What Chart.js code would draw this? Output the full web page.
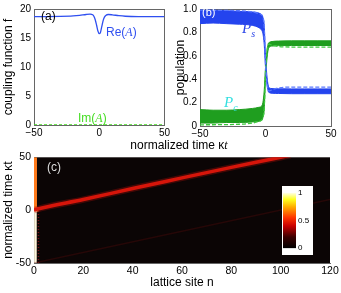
<!DOCTYPE html>
<html>
<head>
<meta charset="utf-8">
<script src="https://cdn.jsdelivr.net/npm/chart.js@4.4.0/dist/chart.umd.min.js"></script>
<style>
body { margin: 0; background: #fff; width: 341px; height: 293px; position: relative; overflow: hidden; font-family: "Liberation Sans", Arial, sans-serif; }
canvas { position: absolute; }
.lbl { position: absolute; white-space: nowrap; line-height: 1; }
.math { font-family: "Liberation Serif", serif; font-style: italic; }
</style>
</head>
<body>
<canvas id="chartA" width="172" height="140" style="left:0;top:0"></canvas>
<canvas id="chartB" width="169" height="140" style="left:172px;top:0"></canvas>
<canvas id="chartC" width="341" height="145" style="left:0;top:148px"></canvas>
<canvas id="colorBar" width="31" height="69" style="left:282px;top:186px;background:#fff"></canvas>

<div class="lbl" style="left:0;width:358px;top:139px;text-align:center;font-size:12px">normalized time κ<span class="math">t</span></div>
<div class="lbl" style="left:41px;top:10px;font-size:12px">(a)</div>
<div class="lbl" style="left:106px;top:26px;font-size:12px;color:#2f4ff0">Re(<span class="math">A</span>)</div>
<div class="lbl" style="left:78px;top:112px;font-size:12px;color:#44dd22">Im(<span class="math">A</span>)</div>
<div class="lbl" style="left:202px;top:7px;font-size:11px;color:#fff">(b)</div>
<div class="lbl math" style="left:242px;top:21px;font-size:15px;color:#2a44e8">P<sub style="font-size:10px">s</sub></div>
<div class="lbl math" style="left:224px;top:95px;font-size:15px;color:#33dfe0">P<sub style="font-size:10px">c</sub></div>
<div class="lbl" style="left:47px;top:161px;font-size:12px;color:#ddd">(c)</div>

<script>
// panel (a): coupling function
const timeA = [-50, -40, -30, -20, -15, -10, -7, -5, -4, -3, -2, -1, 0, 1, 2, 3, 4, 5, 7, 10, 15, 20, 30, 40, 50];
const reA = [18.7, 18.7, 18.72, 18.8, 18.9, 19.05, 19.1, 19.0, 18.7, 18.1, 17.2, 16.2, 15.75, 16.0, 17.0, 18.0, 18.6, 18.9, 19.05, 19.0, 18.85, 18.75, 18.7, 18.7, 18.7];
const imTime = [-50, 50];
const imA = [0, 0];

// panel (b): populations (bands are the range of the fast oscillation)
const timeB = [-50, -40, -30, -20, -10, -5, -3, -2, -1, 0, 1, 2, 3, 5, 10, 20, 30, 40, 50];
const psUpper = [0.99, 0.99, 0.985, 0.98, 0.975, 0.965, 0.95, 0.93, 0.86, 0.6, 0.44, 0.35, 0.325, 0.32, 0.318, 0.317, 0.317, 0.317, 0.317];
const psLower = [0.875, 0.88, 0.875, 0.87, 0.86, 0.84, 0.82, 0.79, 0.7, 0.5, 0.37, 0.3, 0.285, 0.28, 0.278, 0.276, 0.276, 0.276, 0.276];
const pcUpper = [0.14, 0.135, 0.135, 0.14, 0.15, 0.16, 0.17, 0.2, 0.3, 0.5, 0.63, 0.7, 0.715, 0.722, 0.726, 0.728, 0.728, 0.728, 0.728];
const pcLower = [0.025, 0.025, 0.03, 0.03, 0.035, 0.04, 0.05, 0.07, 0.14, 0.4, 0.56, 0.65, 0.675, 0.683, 0.687, 0.688, 0.688, 0.688, 0.688];
const timeAd = [-50, -20, -10, -5, -3, -2, -1, 0, 1, 2, 3, 5, 10, 15, 20, 50];
const psAdiabatic = [0.99, 0.985, 0.975, 0.96, 0.95, 0.93, 0.85, 0.55, 0.38, 0.31, 0.3, 0.31, 0.325, 0.332, 0.333, 0.333];
const pcAdiabatic = [0.01, 0.015, 0.025, 0.04, 0.05, 0.07, 0.15, 0.45, 0.62, 0.69, 0.7, 0.69, 0.68, 0.676, 0.675, 0.675];

// panel (c): intensity over lattice sites
const beamSite = [0, 1, 20, 40, 60, 80, 100, 104];
const beamTime = [0, 0.8, 10, 20.5, 30.5, 40.5, 50, 52];
const faintSite = [0, 120];
const faintTime = [-50, 10];
const sourceUpperTime = [0, 50];
const sourceLowerTime = [-50, 0];
const colorTicks = [0, 0.5, 1];

const minus = v => v < 0 ? '\u2212' + Math.abs(v) : v;
const fixW = w => s => { s.width = w; };
const fixH = h => s => { s.height = h; };
const pts = (xs, ys) => xs.map((x, i) => ({ x: x, y: ys[i] }));
const axisColor = '#666';
const tickFont = { family: 'Liberation Sans', size: 10 };
const titleFont = { family: 'Liberation Sans', size: 12 };

Chart.defaults.color = '#000';
Chart.defaults.animation = false;
Chart.defaults.plugins.legend.display = false;
Chart.defaults.plugins.tooltip.enabled = false;

const boxAxes = (xMin, xMax, topH, rightW) => ({
  x2: { type: 'linear', position: 'top', min: xMin, max: xMax, ticks: { display: false }, grid: { display: false, drawTicks: false }, border: { color: axisColor }, afterFit: fixH(topH) },
  y2: { type: 'linear', position: 'right', ticks: { display: false }, grid: { display: false, drawTicks: false }, border: { color: axisColor }, afterFit: fixW(rightW) }
});

new Chart(document.getElementById('chartA'), {
  type: 'line',
  data: {
    datasets: [
      { data: pts(timeA, reA), borderColor: '#2f4ff0', borderWidth: 1.3, pointRadius: 0, cubicInterpolationMode: 'monotone' },
      { data: pts(imTime, imA), borderColor: '#44dd22', borderWidth: 1.3, borderDash: [3, 2], pointRadius: 0 }
    ]
  },
  options: {
    responsive: false, devicePixelRatio: 1,
    scales: Object.assign({
      x: { type: 'linear', min: -50, max: 50, ticks: { stepSize: 50, callback: minus, font: tickFont, maxRotation: 0, padding: 2 }, grid: { display: false, drawTicks: false }, border: { color: axisColor }, afterFit: fixH(15) },
      y: { min: 0, max: 20, ticks: { stepSize: 5, font: tickFont, padding: 3 }, grid: { display: false, drawTicks: false }, border: { color: axisColor },
           title: { display: true, text: 'coupling function f', font: titleFont, padding: { top: 1, bottom: 0 } }, afterFit: fixW(34) }
    }, boxAxes(-50, 50, 5, 5))
  }
});

const blue = '#2444ee';
const green = '#1f9e1f';
new Chart(document.getElementById('chartB'), {
  type: 'line',
  data: {
    datasets: [
      { data: pts(timeAd, psAdiabatic), borderColor: '#5a78ff', borderWidth: 1.3, borderDash: [4, 2], pointRadius: 0, cubicInterpolationMode: 'monotone', order: 0 },
      { data: pts(timeAd, pcAdiabatic), borderColor: '#3cc83c', borderWidth: 1.3, borderDash: [4, 2], pointRadius: 0, cubicInterpolationMode: 'monotone', order: 0 },
      { data: pts(timeB, psLower), borderColor: blue, borderWidth: 1, pointRadius: 0, cubicInterpolationMode: 'monotone', order: 1 },
      { data: pts(timeB, psUpper), borderColor: blue, borderWidth: 1, pointRadius: 0, cubicInterpolationMode: 'monotone', fill: '-1', backgroundColor: blue, order: 1 },
      { data: pts(timeB, pcLower), borderColor: green, borderWidth: 1, pointRadius: 0, cubicInterpolationMode: 'monotone', order: 2 },
      { data: pts(timeB, pcUpper), borderColor: green, borderWidth: 1, pointRadius: 0, cubicInterpolationMode: 'monotone', fill: '-1', backgroundColor: green, order: 2 }
    ]
  },
  options: {
    responsive: false, devicePixelRatio: 1,
    scales: Object.assign({
      x: { type: 'linear', min: -50, max: 50, ticks: { stepSize: 50, callback: minus, font: tickFont, maxRotation: 0, padding: 2 }, grid: { display: false, drawTicks: false }, border: { color: axisColor }, afterFit: fixH(14) },
      y: { min: 0, max: 1, ticks: { stepSize: 0.2, font: tickFont, padding: 3 }, grid: { display: false, drawTicks: false }, border: { color: axisColor },
           title: { display: true, text: 'population', font: titleFont, padding: { top: 1, bottom: 0 } }, afterFit: fixW(28) }
    }, boxAxes(-50, 50, 5, 10))
  }
});

const plotBackground = {
  id: 'plotBackground',
  beforeDraw(chart) {
    const a = chart.chartArea;
    chart.ctx.save();
    chart.ctx.fillStyle = '#0b0505';
    chart.ctx.fillRect(a.left, a.top, a.right - a.left, a.bottom - a.top);
    chart.ctx.restore();
  }
};

const tickFontC = { family: 'Liberation Sans', size: 10.5 };
new Chart(document.getElementById('chartC'), {
  type: 'line',
  data: {
    datasets: [
      { data: pts(faintSite, faintTime), borderColor: 'rgba(90,12,12,0.35)', borderWidth: 1.5, pointRadius: 0 },
      { data: pts(beamSite, beamTime), borderColor: 'rgba(170,15,8,0.35)', borderWidth: 6.5, pointRadius: 0, cubicInterpolationMode: 'monotone' },
      { data: pts(beamSite, beamTime), borderColor: '#ee1a0c', borderWidth: 3.5, pointRadius: 0, cubicInterpolationMode: 'monotone' },
      { data: pts([0.6, 0.6], sourceUpperTime), borderColor: '#ff7a1c', borderWidth: 3, pointRadius: 0 },
      { data: pts([0.6, 0.6], sourceLowerTime), borderColor: '#fff6dc', borderWidth: 2.5, pointRadius: 0 },
      { data: pts([1.8, 1.8], sourceLowerTime), borderColor: 'rgba(190,30,30,0.6)', borderWidth: 1.5, borderDash: [1, 2], pointRadius: 0 },
      { data: pts([0.8], [0.5]), borderWidth: 0, pointRadius: 2.5, pointBackgroundColor: '#ffcc33', showLine: false }
    ]
  },
  options: {
    responsive: false, devicePixelRatio: 1,
    scales: {
      x: { type: 'linear', min: 0, max: 120, ticks: { stepSize: 20, font: tickFontC, maxRotation: 0, padding: 2 }, grid: { display: false, drawTicks: false }, border: { color: axisColor },
           title: { display: true, text: 'lattice site n', font: titleFont, padding: { top: 0, bottom: 3 } }, afterFit: fixH(30) },
      y: { min: -50, max: 50, ticks: { stepSize: 50, font: tickFontC, padding: 3 }, grid: { display: false, drawTicks: false }, border: { color: axisColor },
           title: { display: true, text: 'normalized time κt', font: titleFont, padding: { top: 1, bottom: 0 } }, afterFit: fixW(34) },
      x2: { type: 'linear', position: 'top', min: 0, max: 120, display: true, ticks: { display: false }, grid: { display: false, drawTicks: false }, border: { display: false }, afterFit: fixH(8) },
      y2: { type: 'linear', position: 'right', display: true, ticks: { display: false }, grid: { display: false, drawTicks: false }, border: { display: false }, afterFit: fixW(11) }
    }
  },
  plugins: [plotBackground]
});

// colour bar of the hot colormap
const hotStops = [[0, '#000000'], [0.2, '#3a0000'], [0.4, '#c80000'], [0.55, '#ff3300'], [0.75, '#ffb000'], [0.88, '#ffff20'], [1, '#ffffe8']];
new Chart(document.getElementById('colorBar'), {
  type: 'bar',
  data: {
    labels: ['intensity'],
    datasets: [{
      data: [1], barPercentage: 1, categoryPercentage: 1,
      backgroundColor: (ctx) => {
        const a = ctx.chart.chartArea;
        if (!a) return '#000';
        const g = ctx.chart.ctx.createLinearGradient(0, a.bottom, 0, a.top);
        hotStops.forEach(s => g.addColorStop(s[0], s[1]));
        return g;
      }
    }]
  },
  options: {
    responsive: false, devicePixelRatio: 1,
    layout: { padding: { left: 1, top: 2, bottom: 2, right: 0 } },
    scales: {
      x: { display: false },
      y: { position: 'right', min: 0, max: 1, afterBuildTicks: s => { s.ticks = colorTicks.map(v => ({ value: v })); },
           ticks: { font: { family: 'Liberation Sans', size: 8 }, padding: 2, color: '#000', callback: v => String(v) },
           grid: { display: false, drawTicks: false }, border: { display: false }, afterFit: fixW(17) }
    }
  }
});
</script>
</body>
</html>
